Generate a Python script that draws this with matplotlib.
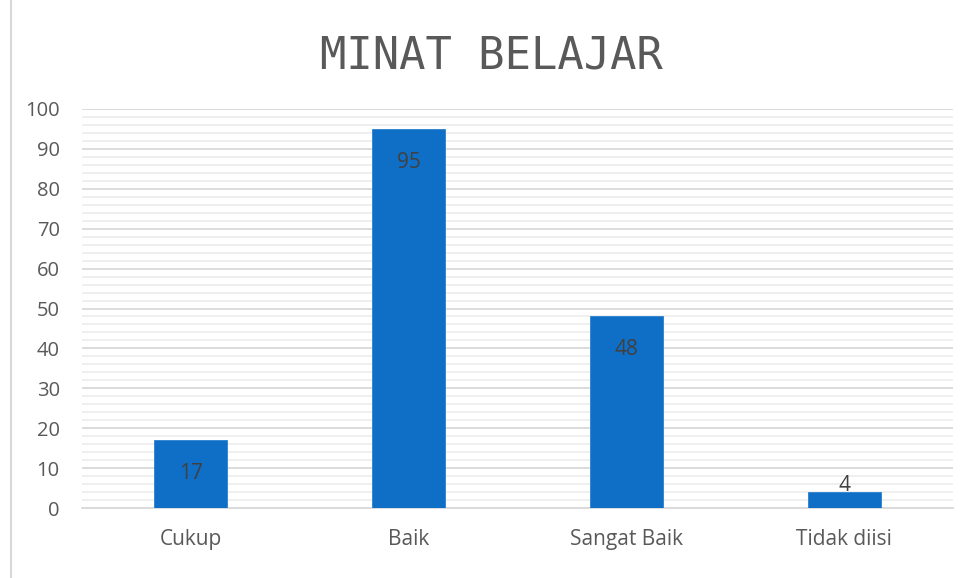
import matplotlib.pyplot as plt
from matplotlib.lines import Line2D
from matplotlib.ticker import MultipleLocator

# data
categories = ['Cukup', 'Baik', 'Sangat Baik', 'Tidak diisi']
values = [17, 95, 48, 4]
title = 'MINAT BELAJAR'

plt.rcParams['font.family'] = ['Open Sans', 'DejaVu Sans']

fig = plt.figure(figsize=(9.67, 5.78), dpi=100)
ax = fig.add_axes([82 / 967, 70 / 578, (953 - 82) / 967, (508 - 109) / 578])

x = range(len(categories))
bars = ax.bar(x, values, width=0.335, color='#0F6FC6', edgecolor='#2A80D0', linewidth=0.6, zorder=3)

ax.set_xlim(-0.5, 3.5)
ax.set_ylim(0, 100)
ax.yaxis.set_major_locator(MultipleLocator(10))
ax.yaxis.set_minor_locator(MultipleLocator(2))
ax.grid(axis='y', which='major', color='#d9d9d9', linewidth=1.3, zorder=1)
ax.grid(axis='y', which='minor', color='#eeeeee', linewidth=1.3, zorder=0)

ax.set_xticks(list(x))
ax.set_xticklabels(categories)
ax.tick_params(axis='both', which='both', length=0, labelsize=14.5, labelcolor='#595959')
ax.tick_params(axis='x', pad=15, labelsize=15)
ax.tick_params(axis='y', pad=16)

for s in ['top', 'right', 'left']:
    ax.spines[s].set_visible(False)
ax.spines['bottom'].set_color('#d9d9d9')
ax.spines['bottom'].set_linewidth(1.3)

# value labels (inside end, small bars pushed up)
for i, v in enumerate(values):
    if v * 3.99 > 40:
        ax.annotate(str(v), xy=(i, v), xytext=(0, -24), textcoords='offset points',
                    ha='center', va='center', fontsize=15, color='#404040', zorder=4)
    else:
        ax.annotate(str(v), xy=(i, 0), xytext=(0, 16), textcoords='offset points',
                    ha='center', va='center', fontsize=15, color='#404040', zorder=4)

fig.text(491 / 967, 1 - 56 / 578, title, ha='center', va='center',
         fontsize=31.5, color='#595959', family='DejaVu Sans Mono')

# chart border on the left
fig.add_artist(Line2D([10.5 / 967, 10.5 / 967], [0, 1], transform=fig.transFigure,
                      color='#d9d9d9', linewidth=1.5))

fig.savefig('out.png', dpi=100)
